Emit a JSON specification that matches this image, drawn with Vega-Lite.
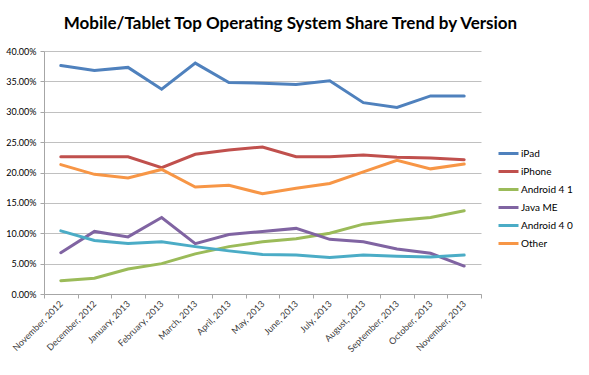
{
  "$schema": "https://vega.github.io/schema/vega-lite/v6.json",
  "autosize": "none",
  "width": 437,
  "height": 243,
  "padding": {"left": 44, "top": 51, "right": 108, "bottom": 81},
  "background": "white",
  "title": {
    "text": "Mobile/Tablet Top Operating System Share Trend by Version",
    "font": "Lato",
    "fontSize": 17,
    "fontWeight": "bold",
    "color": "#000000",
    "anchor": "middle",
    "dx": 28,
    "offset": 14
  },
  "config": {
    "view": {"stroke": null},
    "font": "Lato"
  },
  "data": {
    "values": [
      {"month": "November, 2012", "os": "iPad", "share": 37.6},
      {"month": "December, 2012", "os": "iPad", "share": 36.8},
      {"month": "January, 2013", "os": "iPad", "share": 37.3},
      {"month": "February, 2013", "os": "iPad", "share": 33.7},
      {"month": "March, 2013", "os": "iPad", "share": 38.0},
      {"month": "April, 2013", "os": "iPad", "share": 34.8},
      {"month": "May, 2013", "os": "iPad", "share": 34.7},
      {"month": "June, 2013", "os": "iPad", "share": 34.5},
      {"month": "July, 2013", "os": "iPad", "share": 35.1},
      {"month": "August, 2013", "os": "iPad", "share": 31.5},
      {"month": "September, 2013", "os": "iPad", "share": 30.7},
      {"month": "October, 2013", "os": "iPad", "share": 32.6},
      {"month": "November, 2013", "os": "iPad", "share": 32.6},

      {"month": "November, 2012", "os": "iPhone", "share": 22.6},
      {"month": "December, 2012", "os": "iPhone", "share": 22.6},
      {"month": "January, 2013", "os": "iPhone", "share": 22.6},
      {"month": "February, 2013", "os": "iPhone", "share": 20.8},
      {"month": "March, 2013", "os": "iPhone", "share": 23.0},
      {"month": "April, 2013", "os": "iPhone", "share": 23.7},
      {"month": "May, 2013", "os": "iPhone", "share": 24.2},
      {"month": "June, 2013", "os": "iPhone", "share": 22.6},
      {"month": "July, 2013", "os": "iPhone", "share": 22.6},
      {"month": "August, 2013", "os": "iPhone", "share": 22.9},
      {"month": "September, 2013", "os": "iPhone", "share": 22.5},
      {"month": "October, 2013", "os": "iPhone", "share": 22.4},
      {"month": "November, 2013", "os": "iPhone", "share": 22.1},

      {"month": "November, 2012", "os": "Android 4 1", "share": 2.2},
      {"month": "December, 2012", "os": "Android 4 1", "share": 2.6},
      {"month": "January, 2013", "os": "Android 4 1", "share": 4.1},
      {"month": "February, 2013", "os": "Android 4 1", "share": 5.0},
      {"month": "March, 2013", "os": "Android 4 1", "share": 6.6},
      {"month": "April, 2013", "os": "Android 4 1", "share": 7.8},
      {"month": "May, 2013", "os": "Android 4 1", "share": 8.6},
      {"month": "June, 2013", "os": "Android 4 1", "share": 9.1},
      {"month": "July, 2013", "os": "Android 4 1", "share": 10.0},
      {"month": "August, 2013", "os": "Android 4 1", "share": 11.5},
      {"month": "September, 2013", "os": "Android 4 1", "share": 12.1},
      {"month": "October, 2013", "os": "Android 4 1", "share": 12.6},
      {"month": "November, 2013", "os": "Android 4 1", "share": 13.7},

      {"month": "November, 2012", "os": "Java ME", "share": 6.8},
      {"month": "December, 2012", "os": "Java ME", "share": 10.3},
      {"month": "January, 2013", "os": "Java ME", "share": 9.4},
      {"month": "February, 2013", "os": "Java ME", "share": 12.6},
      {"month": "March, 2013", "os": "Java ME", "share": 8.3},
      {"month": "April, 2013", "os": "Java ME", "share": 9.8},
      {"month": "May, 2013", "os": "Java ME", "share": 10.3},
      {"month": "June, 2013", "os": "Java ME", "share": 10.8},
      {"month": "July, 2013", "os": "Java ME", "share": 9.0},
      {"month": "August, 2013", "os": "Java ME", "share": 8.6},
      {"month": "September, 2013", "os": "Java ME", "share": 7.4},
      {"month": "October, 2013", "os": "Java ME", "share": 6.7},
      {"month": "November, 2013", "os": "Java ME", "share": 4.6},

      {"month": "November, 2012", "os": "Android 4 0", "share": 10.4},
      {"month": "December, 2012", "os": "Android 4 0", "share": 8.8},
      {"month": "January, 2013", "os": "Android 4 0", "share": 8.3},
      {"month": "February, 2013", "os": "Android 4 0", "share": 8.6},
      {"month": "March, 2013", "os": "Android 4 0", "share": 7.8},
      {"month": "April, 2013", "os": "Android 4 0", "share": 7.1},
      {"month": "May, 2013", "os": "Android 4 0", "share": 6.5},
      {"month": "June, 2013", "os": "Android 4 0", "share": 6.4},
      {"month": "July, 2013", "os": "Android 4 0", "share": 6.0},
      {"month": "August, 2013", "os": "Android 4 0", "share": 6.4},
      {"month": "September, 2013", "os": "Android 4 0", "share": 6.2},
      {"month": "October, 2013", "os": "Android 4 0", "share": 6.1},
      {"month": "November, 2013", "os": "Android 4 0", "share": 6.4},

      {"month": "November, 2012", "os": "Other", "share": 21.3},
      {"month": "December, 2012", "os": "Other", "share": 19.7},
      {"month": "January, 2013", "os": "Other", "share": 19.1},
      {"month": "February, 2013", "os": "Other", "share": 20.5},
      {"month": "March, 2013", "os": "Other", "share": 17.6},
      {"month": "April, 2013", "os": "Other", "share": 17.9},
      {"month": "May, 2013", "os": "Other", "share": 16.5},
      {"month": "June, 2013", "os": "Other", "share": 17.4},
      {"month": "July, 2013", "os": "Other", "share": 18.2},
      {"month": "August, 2013", "os": "Other", "share": 20.1},
      {"month": "September, 2013", "os": "Other", "share": 22.0},
      {"month": "October, 2013", "os": "Other", "share": 20.6},
      {"month": "November, 2013", "os": "Other", "share": 21.4}
    ]
  },
  "mark": {"type": "line", "strokeWidth": 3, "strokeCap": "round", "strokeJoin": "miter"},
  "encoding": {
    "x": {
      "field": "month",
      "type": "ordinal",
      "sort": null,
      "scale": {"type": "band", "paddingInner": 0, "paddingOuter": 0},
      "axis": {
        "title": null,
        "labelAngle": -45,
        "labelAlign": "right",
        "labelBaseline": "middle",
        "labelFontSize": 9,
        "labelColor": "#3b3b3b",
        "labelPadding": 4,
        "tickBand": "extent",
        "domainColor": "#a6a6a6",
        "tickColor": "#a6a6a6",
        "tickSize": 4,
        "grid": false
      }
    },
    "y": {
      "field": "share",
      "type": "quantitative",
      "scale": {"domain": [0, 40]},
      "axis": {
        "title": null,
        "values": [0, 5, 10, 15, 20, 25, 30, 35, 40],
        "labelExpr": "format(datum.value, '.2f') + '%'",
        "labelFontSize": 9,
        "labelColor": "#000000",
        "labelPadding": 4,
        "domainColor": "#a6a6a6",
        "tickColor": "#a6a6a6",
        "tickSize": 4,
        "gridColor": "#c0c0c0",
        "gridWidth": 1
      }
    },
    "color": {
      "field": "os",
      "type": "nominal",
      "scale": {
        "domain": ["iPad", "iPhone", "Android 4 1", "Java ME", "Android 4 0", "Other"],
        "range": ["#4f81bd", "#c0504d", "#9bbb59", "#8064a2", "#4bacc6", "#f79646"]
      },
      "legend": {
        "title": null,
        "orient": "none",
        "legendX": 453,
        "legendY": 91,
        "symbolType": "stroke",
        "symbolSize": 400,
        "symbolStrokeWidth": 3,
        "labelFontSize": 10,
        "labelColor": "#000000",
        "labelOffset": 1,
        "rowPadding": 0
      }
    }
  }
}
